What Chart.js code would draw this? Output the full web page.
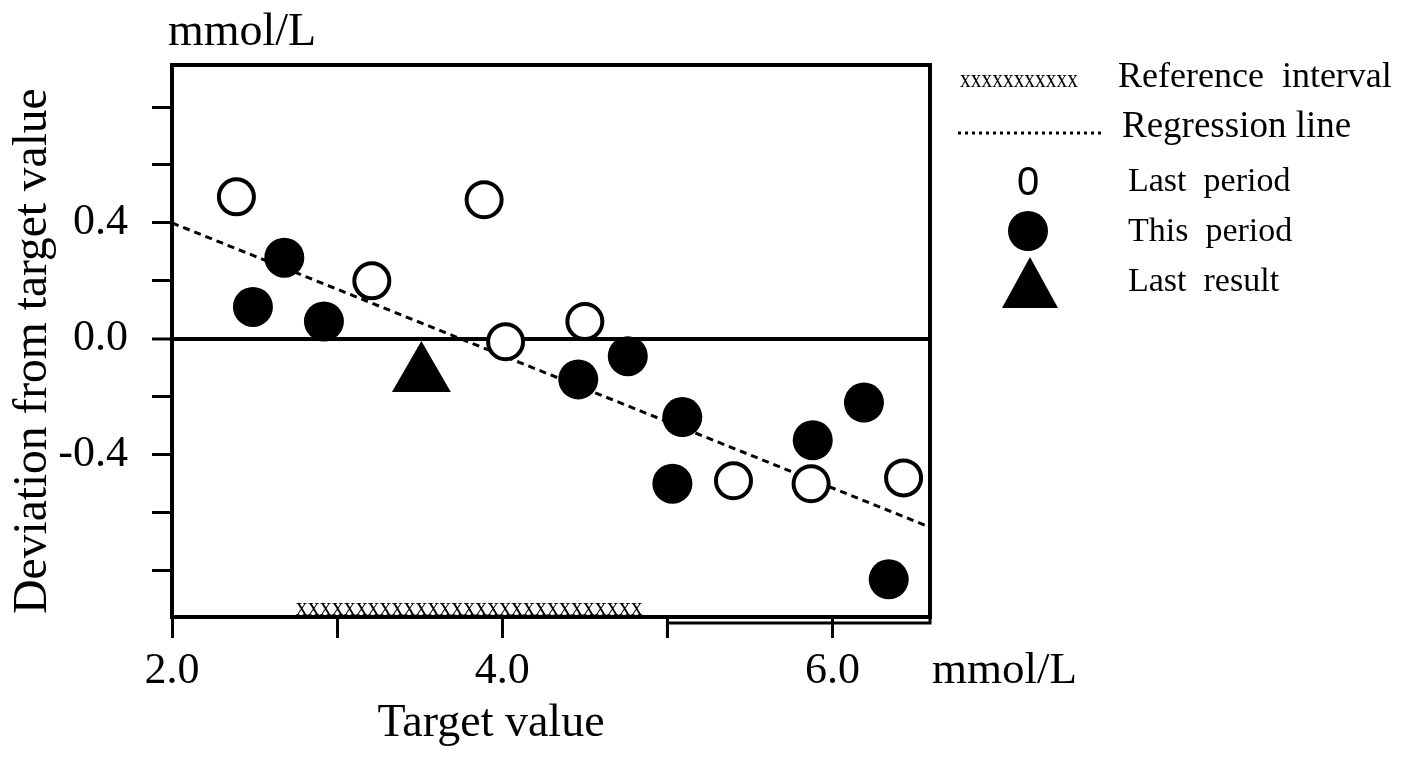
<!DOCTYPE html>
<html>
<head>
<meta charset="utf-8">
<title>Deviation from target value</title>
<script src="https://cdn.jsdelivr.net/npm/chart.js@4.4.1/dist/chart.umd.min.js"></script>
<style>
  html, body { margin: 0; padding: 0; background: #fff; }
  #wrap { position: relative; width: 1411px; height: 757px; }
</style>
</head>
<body>
<div id="wrap"><canvas id="chart"></canvas></div>
<script>
// values (x = target value, y = deviation, both mmol/L)
const lastPeriodX = [2.39, 3.21, 3.89, 4.02, 4.50, 5.40, 5.87, 6.43];
const lastPeriodY = [0.49, 0.20, 0.48, -0.01, 0.06, -0.49, -0.50, -0.48];
const thisPeriodX = [2.49, 2.68, 2.92, 4.46, 4.76, 5.03, 5.09, 5.88, 6.19, 6.34];
const thisPeriodY = [0.11, 0.28, 0.06, -0.14, -0.06, -0.50, -0.27, -0.35, -0.22, -0.83];
const lastResultX = [3.51];
const lastResultY = [-0.125];
const regressionX = [2.0, 6.59];
const regressionY = [0.40, -0.65];
const referenceInterval = [2.75, 4.85];

const xTickValues = [2, 3, 4, 5, 6];
const xTickLabels = ['2.0', '', '4.0', '', '6.0'];
const yTickValues = [0.8, 0.6, 0.4, 0.2, 0, -0.2, -0.4, -0.6, -0.8];
const yTickLabels = ['', '', '0.4', '', '0.0', '', '-0.4', '', ''];

const SERIF = '"Liberation Serif", "Times New Roman", serif';
const SANS = '"Liberation Sans", Arial, sans-serif';

const toPoints = (xs, ys) => xs.map((v, i) => ({ x: v, y: ys[i] }));

// frame, reference interval, titles, units and the hand made legend
const decoPlugin = {
  id: "deco",
  afterDraw(chart) {
    const { ctx, chartArea: a, scales: { x } } = chart;
    ctx.save();
    ctx.strokeStyle = "#000";
    ctx.fillStyle = "#000";
    ctx.lineWidth = 4;
    ctx.strokeRect(a.left, a.top, a.right - a.left, a.bottom - a.top);

    // the scan has a second line under the right part of the x axis
    const x5 = x.getPixelForValue(5);
    ctx.lineWidth = 3;
    ctx.beginPath();
    ctx.moveTo(x5, a.bottom + 21);
    ctx.lineTo(x5, a.bottom + 6);
    ctx.lineTo(a.right, a.bottom + 6);
    ctx.lineTo(a.right, a.bottom);
    ctx.stroke();

    // reference interval = a row of x's on the axis
    const r0 = x.getPixelForValue(referenceInterval[0]);
    const r1 = x.getPixelForValue(referenceInterval[1]);
    ctx.font = "26px " + SERIF;
    ctx.textAlign = "left";
    ctx.textBaseline = "alphabetic";
    const n = Math.round((r1 - r0) / (ctx.measureText("x").width * 0.93));
    ctx.fillText("x".repeat(n), r0, a.bottom - 2, r1 - r0);

    // axis titles
    ctx.font = "46px " + SERIF;
    ctx.textAlign = "center";
    ctx.fillText("Target value", 491, 736);
    ctx.save();
    ctx.translate(46, 351);
    ctx.rotate(-Math.PI / 2);
    ctx.font = "47.5px " + SERIF;
    ctx.fillText("Deviation from target value", 0, 0);
    ctx.restore();

    // units
    ctx.textAlign = "left";
    ctx.font = "46px " + SERIF;
    ctx.fillText("mmol/L", 168, 45);
    ctx.font = "45px " + SERIF;
    ctx.fillText("mmol/L", 932, 683);

    // legend
    ctx.font = "25px " + SERIF;
    ctx.fillText("xxxxxxxxxxx", 960, 87, 118);
    ctx.font = "36px " + SERIF;
    ctx.fillText("Reference  interval", 1118, 87);
    ctx.font = "37px " + SERIF;
    ctx.fillText("Regression line", 1122, 137);

    ctx.setLineDash([3, 4]);
    ctx.lineWidth = 3;
    ctx.beginPath();
    ctx.moveTo(958, 133);
    ctx.lineTo(1104, 133);
    ctx.stroke();
    ctx.setLineDash([]);

    ctx.textBaseline = "middle";
    ctx.font = "40px " + SANS;
    ctx.textAlign = "center";
    ctx.fillText("0", 1028, 184);

    ctx.beginPath();
    ctx.arc(1028, 231, 20, 0, Math.PI * 2);
    ctx.fill();

    ctx.beginPath();
    ctx.moveTo(1030, 257);
    ctx.lineTo(1058, 308);
    ctx.lineTo(1002, 308);
    ctx.closePath();
    ctx.fill();

    ctx.font = "34px " + SERIF;
    ctx.textAlign = "left";
    ctx.fillText("Last  period", 1128, 182);
    ctx.fillText("This  period", 1128, 232);
    ctx.fillText("Last  result", 1128, 282);
    ctx.restore();
  },
};

const chart = new Chart(document.getElementById("chart"), {
  type: "scatter",
  data: {
    datasets: [
      {
        label: "Last period",
        data: toPoints(lastPeriodX, lastPeriodY),
        pointStyle: "circle",
        pointRadius: 17.5,
        pointBorderWidth: 4,
        pointBackgroundColor: "#fff",
        pointBorderColor: "#000",
        order: 1,
      },
      {
        label: "This period",
        data: toPoints(thisPeriodX, thisPeriodY),
        pointStyle: "circle",
        pointRadius: 20,
        pointBorderWidth: 0,
        pointBackgroundColor: "#000",
        pointBorderColor: "#000",
        order: 1,
      },
      {
        label: "Last result",
        data: toPoints(lastResultX, lastResultY),
        pointStyle: "triangle",
        pointRadius: 34,
        pointBorderWidth: 0,
        pointBackgroundColor: "#000",
        pointBorderColor: "#000",
        order: 1,
      },
      {
        type: "line",
        label: "Regression line",
        data: toPoints(regressionX, regressionY),
        borderColor: "#000",
        borderWidth: 3,
        borderDash: [7, 5],
        pointRadius: 0,
        fill: false,
        order: 3,
      },
    ],
  },
  options: {
    responsive: true,
    maintainAspectRatio: false,
    animation: false,
    layout: { padding: { top: 65, right: 481, left: 0, bottom: 0 } },
    plugins: {
      legend: { display: false },
      tooltip: { enabled: false },
    },
    scales: {
      x: {
        type: "linear",
        min: 2,
        max: 6.59,
        afterBuildTicks: (s) => {
          s.ticks = xTickValues.map((v) => ({ value: v }));
        },
        afterFit: (s) => {
          s.height = 140;
        },
        border: { display: false },
        grid: {
          drawOnChartArea: false,
          tickLength: 21,
          tickColor: "#000",
          tickWidth: 3,
        },
        ticks: {
          autoSkip: false,
          maxRotation: 0,
          padding: 7,
          color: "#000",
          font: { family: SERIF, size: 44 },
          callback: (v, i) => xTickLabels[i],
        },
      },
      y: {
        type: "linear",
        min: -0.96,
        max: 0.945,
        afterBuildTicks: (s) => {
          s.ticks = yTickValues.map((v) => ({ value: v }));
        },
        afterFit: (s) => {
          s.width = 172;
        },
        border: { display: false },
        grid: {
          color: (c) => (c.tick && c.tick.value === 0 ? "#000" : "rgba(0,0,0,0)"),
          lineWidth: (c) => (c.tick && c.tick.value === 0 ? 4 : 1),
          tickLength: 20,
          tickColor: "#000",
          tickWidth: 3,
        },
        ticks: {
          autoSkip: false,
          padding: 24,
          color: "#000",
          font: { family: SERIF, size: 44 },
          callback: (v, i) => yTickLabels[i],
        },
      },
    },
  },
  plugins: [decoPlugin],
});
</script>
</body>
</html>
